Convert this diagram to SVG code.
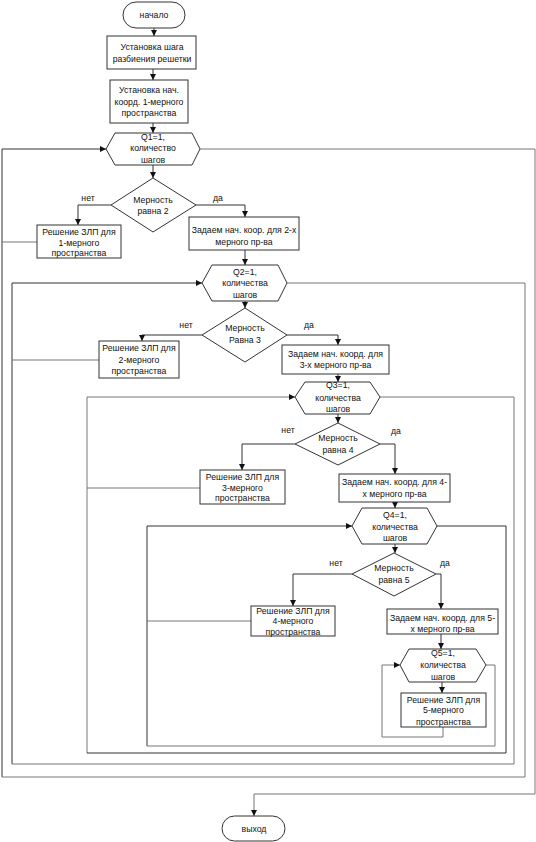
<svg xmlns="http://www.w3.org/2000/svg" width="536" height="842" viewBox="0 0 536 842">
<style>
.s{fill:#fff;stroke:#333;stroke-width:1}
.t{font-family:"Liberation Sans",Arial,sans-serif;font-size:8.7px;fill:#111;text-anchor:middle}
.c{fill:none;stroke:#333;stroke-width:1}
.g{fill:none;stroke:#777;stroke-width:1}
</style>
<defs>
<marker id="a" markerUnits="userSpaceOnUse" markerWidth="6" markerHeight="6" refX="6" refY="3" orient="auto">
<path d="M0,0 L6,3 L0,6 z" fill="#111"/>
</marker>
</defs>
<rect width="536" height="842" fill="#fff"/>
<g id="connectors">
<path class="c" d="M154,28 V36" marker-end="url(#a)"/>
<path class="c" d="M153,69 V80" marker-end="url(#a)"/>
<path class="c" d="M153,123 V133" marker-end="url(#a)"/>
<path class="c" d="M153,165 V178" marker-end="url(#a)"/>
<path class="c" d="M111,205 H78 V225" marker-end="url(#a)"/>
<path class="c" d="M196,205 H245 V217" marker-end="url(#a)"/>
<path class="c" d="M245,250 V265" marker-end="url(#a)"/>
<path class="c" d="M245,301 V308" marker-end="url(#a)"/>
<path class="c" d="M202,335 H142 V341" marker-end="url(#a)"/>
<path class="c" d="M287,335 H338 V345" marker-end="url(#a)"/>
<path class="c" d="M338,374 V382" marker-end="url(#a)"/>
<path class="c" d="M338,414 V423" marker-end="url(#a)"/>
<path class="c" d="M295,444 H242 V470" marker-end="url(#a)"/>
<path class="c" d="M380,444 H395 V474" marker-end="url(#a)"/>
<path class="c" d="M395,502 V508" marker-end="url(#a)"/>
<path class="c" d="M395,544 V553" marker-end="url(#a)"/>
<path class="c" d="M352,574 H293 V606" marker-end="url(#a)"/>
<path class="c" d="M436,574 H441 V609" marker-end="url(#a)"/>
<path class="c" d="M441,634 V649" marker-end="url(#a)"/>
<path class="c" d="M442,682 V693" marker-end="url(#a)"/>
<!-- loop Q1 -->
<path class="g" d="M200,149 H535 V794 H254 V816" marker-end="url(#a)"/>
<path class="c" d="M2,777 V149 H106" marker-end="url(#a)"/>
<path class="g" d="M37,242 H2"/>
<!-- Q2 exit back to Q1 -->
<path class="g" d="M287,283 H525 V777 H2"/>
<!-- loop Q2 -->
<path class="c" d="M12,764 V283 H202" marker-end="url(#a)"/>
<path class="g" d="M99,360 H12"/>
<path class="g" d="M380,397 H514 V764 H12"/>
<!-- loop Q3 -->
<path class="g" d="M87,753 V397 H295" marker-end="url(#a)"/>
<path class="g" d="M200,488 H87"/>
<path class="c" d="M437,526 H506 V753 H87"/>
<!-- loop Q4 -->
<path class="c" d="M147,746 V526 H352" marker-end="url(#a)"/>
<path class="g" d="M251,621 H147"/>
<path class="g" d="M486,665 H495 V746 H147"/>
<!-- loop Q5 -->
<path class="g" d="M443,727 V737 H382 V665 H400" marker-end="url(#a)"/>
</g>
<g id="start">
<rect class="s" x="123" y="2" width="62" height="26" rx="13"/>
<text class="t" x="154" y="18">начало</text>
</g>
<g id="step">
<rect class="s" x="107" y="36" width="89" height="33"/>
<text class="t" x="152" y="50">Установка шага</text>
<text class="t" x="152" y="61.5">разбиения решетки</text>
</g>
<g id="init1">
<rect class="s" x="110" y="80" width="78" height="43"/>
<text class="t" x="149" y="93">Установка нач.</text>
<text class="t" x="149" y="104.5">коорд. 1-мерного</text>
<text class="t" x="149" y="116">пространства</text>
</g>
<g id="q1">
<polygon class="s" points="106,149 115,133 192,133 200,149 192,165 115,165"/>
<text class="t" x="153" y="139.5">Q1=1,</text>
<text class="t" x="153" y="151">количество</text>
<text class="t" x="153" y="162.5">шагов</text>
</g>
<g id="d2">
<polygon class="s" points="153,178 196,205 153,232 111,205"/>
<text class="t" x="153" y="203">Мерность</text>
<text class="t" x="153" y="214">равна 2</text>
</g>
<text class="t" x="88" y="201">нет</text>
<text class="t" x="218" y="201">да</text>
<g id="sol1">
<rect class="s" x="37" y="225" width="84" height="33"/>
<text class="t" x="79" y="235">Решение ЗЛП для</text>
<text class="t" x="79" y="245.5">1-мерного</text>
<text class="t" x="79" y="256">пространства</text>
</g>
<g id="init2">
<rect class="s" x="189" y="217" width="110" height="33"/>
<text class="t" x="244" y="233">Задаем нач. коор. для 2-х</text>
<text class="t" x="244" y="245">мерного пр-ва</text>
</g>
<g id="q2">
<polygon class="s" points="202,283 212,265 278,265 287,283 278,301 212,301"/>
<text class="t" x="245" y="274.5">Q2=1,</text>
<text class="t" x="245" y="286">количества</text>
<text class="t" x="245" y="297.5">шагов</text>
</g>
<g id="d3">
<polygon class="s" points="245,308 287,335 245,362 202,335"/>
<text class="t" x="245" y="331">Мерность</text>
<text class="t" x="245" y="343">Равна 3</text>
</g>
<text class="t" x="186" y="328">нет</text>
<text class="t" x="309" y="328">да</text>
<g id="sol2">
<rect class="s" x="99" y="341" width="80" height="37"/>
<text class="t" x="139" y="351">Решение ЗЛП для</text>
<text class="t" x="139" y="363">2-мерного</text>
<text class="t" x="139" y="374">пространства</text>
</g>
<g id="init3">
<rect class="s" x="282" y="345" width="107" height="29"/>
<text class="t" x="335.5" y="357">Задаем нач. коорд.  для</text>
<text class="t" x="335.5" y="368">3-х мерного пр-ва</text>
</g>
<g id="q3">
<polygon class="s" points="295,397 305,382 370,382 380,397 370,414 305,414"/>
<text class="t" x="338" y="388">Q3=1,</text>
<text class="t" x="338" y="401">количества</text>
<text class="t" x="338" y="412">шагов</text>
</g>
<g id="d4">
<polygon class="s" points="338,423 380,444 338,465 295,444"/>
<text class="t" x="338" y="441">Мерность</text>
<text class="t" x="338" y="453">равна 4</text>
</g>
<text class="t" x="288" y="432.5">нет</text>
<text class="t" x="396" y="434">да</text>
<g id="sol3">
<rect class="s" x="200" y="470" width="85" height="34"/>
<text class="t" x="242.5" y="479.5">Решение ЗЛП для</text>
<text class="t" x="242.5" y="490.5">3-мерного</text>
<text class="t" x="242.5" y="501">пространства</text>
</g>
<g id="init4">
<rect class="s" x="339" y="474" width="111" height="28"/>
<text class="t" x="394.5" y="485">Задаем нач. коорд. для 4-</text>
<text class="t" x="394.5" y="496.5">х мерного пр-ва</text>
</g>
<g id="q4">
<polygon class="s" points="352,526 362,508 427,508 437,526 427,544 362,544"/>
<text class="t" x="395" y="518">Q4=1,</text>
<text class="t" x="395" y="530">количества</text>
<text class="t" x="395" y="541">шагов</text>
</g>
<g id="d5">
<polygon class="s" points="394,553 436,574 394,596 352,574"/>
<text class="t" x="394" y="571">Мерность</text>
<text class="t" x="394" y="583">равна 5</text>
</g>
<text class="t" x="336" y="566">нет</text>
<text class="t" x="445" y="566">да</text>
<g id="sol4">
<rect class="s" x="251" y="606" width="84" height="30"/>
<text class="t" x="293" y="614">Решение ЗЛП для</text>
<text class="t" x="293" y="624">4-мерного</text>
<text class="t" x="293" y="635">пространства</text>
</g>
<g id="init5">
<rect class="s" x="387" y="609" width="111" height="25"/>
<text class="t" x="442.5" y="621">Задаем нач. коорд. для 5-</text>
<text class="t" x="442.5" y="632">х мерного пр-ва</text>
</g>
<g id="q5">
<polygon class="s" points="400,665 409,649 476,649 486,665 476,682 409,682"/>
<text class="t" x="443" y="656">Q5=1,</text>
<text class="t" x="443" y="668">количества</text>
<text class="t" x="443" y="680">шагов</text>
</g>
<g id="sol5">
<rect class="s" x="401" y="693" width="85" height="34"/>
<text class="t" x="443.5" y="703">Решение ЗЛП для</text>
<text class="t" x="443.5" y="713">5-мерного</text>
<text class="t" x="443.5" y="724.5">пространства</text>
</g>
<g id="end">
<rect class="s" x="222" y="816" width="63" height="25" rx="12.5"/>
<text class="t" x="254" y="832">выход</text>
</g>
</svg>
